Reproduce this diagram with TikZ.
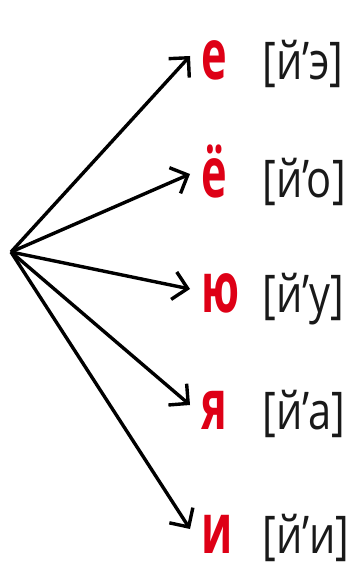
\documentclass[tikz,border=0pt]{standalone}
\usepackage{fontspec}
\setmainfont{Open Sans}
\usetikzlibrary{arrows.meta}
\definecolor{letterred}{RGB}{222,0,22}
\begin{document}
\begin{tikzpicture}[x=0.5pt,y=-0.5pt,
    letter/.style={anchor=base west, inner xsep=9pt, inner ysep=0pt,
      text height=24pt, text depth=0pt, xscale=0.62,
      font=\fontsize{35}{35}\selectfont\bfseries, text=letterred},
    sound/.style={anchor=base west, inner sep=0pt, xscale=0.8,
      font=\fontsize{26}{26}\selectfont, text=black!90},
    ray/.style={line width=1.7pt, -{Straight Barb[length=7pt,width=14pt,line width=1.7pt]}}]
\useasboundingbox (0,0) rectangle (355,565);
% Start point
\coordinate (O) at (11,252);

% Vowels and their sounds
\foreach \i/\l/\s/\y in {1/е/{[й’э]}/80, 2/ё/{[й’о]}/198, 3/ю/{[й’у]}/313,
    4/я/{[й’а]}/429, 5/и/{[й’и]}/553} {
  \node[letter] (L\i) at (190,\y) {\l};
  \node[sound] (S\i) at (262,\y) {\s};
  \draw[ray] (O) -- (L\i.west);
}
\end{tikzpicture}
\end{document}
